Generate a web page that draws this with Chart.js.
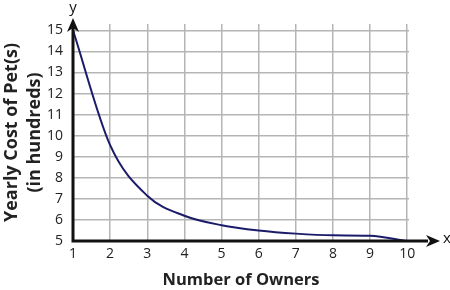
<!DOCTYPE html>
<html>
<head>
<meta charset="utf-8">
<script src="https://cdn.jsdelivr.net/npm/chart.js@4"></script>
<style>
  html, body { margin: 0; padding: 0; background: #fff; }
  #wrap { width: 450px; height: 290px; }
</style>
</head>
<body>
<div id="wrap"><canvas id="c" width="450" height="290"></canvas></div>
<script>
// data
var owners = [1, 2, 3, 4, 5, 6, 7, 8, 9, 10];
var cost   = [15, 9.55, 7.15, 6.2, 5.75, 5.5, 5.35, 5.27, 5.25, 5.0];
var xTicks = [1, 2, 3, 4, 5, 6, 7, 8, 9, 10];
var yTicks = [5, 6, 7, 8, 9, 10, 11, 12, 13, 14, 15];
var yTitle = ['Yearly Cost of Pet(s)', '(in hundreds)'];
var xTitle = 'Number of Owners';

var FONT = '"Open Sans", "DejaVu Sans", sans-serif';

// black axes with arrows + "x"/"y" labels
var axesPlugin = {
  id: 'axes',
  afterDatasetsDraw(chart) {
    var ctx = chart.ctx, xs = chart.scales.x, ys = chart.scales.y;
    var x0 = xs.getPixelForValue(1), y0 = ys.getPixelForValue(5);
    ctx.save();
    ctx.strokeStyle = '#111';
    ctx.fillStyle = '#111';
    ctx.lineWidth = 3;
    ctx.beginPath();
    ctx.moveTo(x0, y0 + 1.5); ctx.lineTo(x0, 28);
    ctx.moveTo(x0 - 1.5, y0); ctx.lineTo(428, y0);
    ctx.stroke();
    // arrow heads
    ctx.beginPath();
    ctx.moveTo(x0, 18); ctx.lineTo(x0 - 6, 32); ctx.lineTo(x0, 28); ctx.lineTo(x0 + 6, 32); ctx.closePath();
    ctx.fill();
    ctx.beginPath();
    ctx.moveTo(440, y0); ctx.lineTo(426, y0 - 6); ctx.lineTo(430, y0); ctx.lineTo(426, y0 + 6); ctx.closePath();
    ctx.fill();
    ctx.font = '15px ' + FONT;
    ctx.textAlign = 'center';
    ctx.textBaseline = 'middle';
    ctx.fillText('y', x0, 8);
    ctx.fillText('x', 447, y0 - 2);
    ctx.restore();
  }
};

new Chart(document.getElementById('c'), {
  type: 'line',
  data: {
    datasets: [{
      data: owners.map((o, i) => ({ x: o, y: cost[i] })),
      borderColor: '#1b1b6b',
      borderWidth: 2,
      pointRadius: 0,
      fill: false,
      cubicInterpolationMode: 'monotone'
    }]
  },
  options: {
    responsive: false,
    animation: false,
    layout: { padding: { top: 24, right: 41, left: 0, bottom: 0 } },
    plugins: { legend: { display: false }, tooltip: { enabled: false } },
    scales: {
      x: {
        type: 'linear', min: 1, max: 10.05,
        afterBuildTicks: s => { s.ticks = xTicks.map(v => ({ value: v })); },
        border: { display: false },
        grid: { color: c => c.tick.value > 1 ? '#b5b5b5' : 'rgba(0,0,0,0)', lineWidth: 1.5, drawTicks: false },
        ticks: { padding: 5, color: '#222', font: { family: FONT, size: 14 } },
        title: { display: true, text: xTitle, color: '#222', padding: { top: 4, bottom: 0 },
                 font: { family: FONT, size: 16.5, weight: 'bold' } },
        afterFit: s => { s.height = 49; }
      },
      y: {
        type: 'linear', min: 5, max: 15.3,
        afterBuildTicks: s => { s.ticks = yTicks.map(v => ({ value: v })); },
        border: { display: false },
        grid: { color: c => c.tick.value > 5 ? '#b5b5b5' : 'rgba(0,0,0,0)', lineWidth: 1.5, drawTicks: false },
        ticks: { padding: 10, color: '#222', font: { family: FONT, size: 14 } },
        title: { display: true, text: yTitle, color: '#222', padding: { top: 0, bottom: 0 },
                 font: { family: FONT, size: 18, weight: 'bold', lineHeight: 1.3 } },
        afterFit: s => { s.width = 73; }
      }
    }
  },
  plugins: [axesPlugin]
});
</script>
</body>
</html>
